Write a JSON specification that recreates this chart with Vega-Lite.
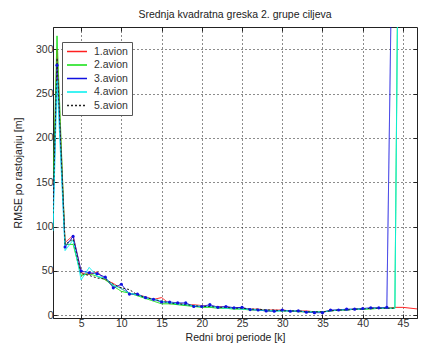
{
  "$schema": "https://vega.github.io/schema/vega-lite/v6.json",
  "width": 364,
  "height": 291,
  "autosize": "none",
  "padding": {"left": 53, "top": 27, "right": 5, "bottom": 36},
  "background": "white",
  "title": {"text": "Srednja kvadratna greska 2. grupe ciljeva", "font": "Liberation Sans", "fontSize": 10.5, "fontWeight": "normal", "color": "#222", "offset": 6},
  "config": {
    "view": {"stroke": "#222", "strokeWidth": 1},
    "axis": {"labelFont": "Liberation Sans", "labelFontSize": 10.5, "labelColor": "#333", "titleFont": "Liberation Sans", "titleFontSize": 10.5, "titleFontWeight": "normal", "titleColor": "#222", "gridColor": "#000", "gridDash": [1, 3], "gridOpacity": 0.9, "domainColor": "#222", "tickColor": "#222", "tickSize": -4, "labelPadding": 4}
  },
  "data": {"values": [
    {"k":1.5,"v":125,"s":"1.avion"},{"k":2,"v":300,"s":"1.avion"},{"k":3,"v":82,"s":"1.avion"},{"k":4,"v":90,"s":"1.avion"},{"k":5,"v":48,"s":"1.avion"},{"k":6,"v":46,"s":"1.avion"},{"k":7,"v":49,"s":"1.avion"},{"k":8,"v":40,"s":"1.avion"},{"k":9,"v":36,"s":"1.avion"},{"k":10,"v":30,"s":"1.avion"},{"k":11,"v":25,"s":"1.avion"},{"k":12,"v":23,"s":"1.avion"},{"k":13,"v":21,"s":"1.avion"},{"k":14,"v":18,"s":"1.avion"},{"k":15,"v":20,"s":"1.avion"},{"k":16,"v":13,"s":"1.avion"},{"k":17,"v":14,"s":"1.avion"},{"k":18,"v":12,"s":"1.avion"},{"k":19,"v":12,"s":"1.avion"},{"k":20,"v":11,"s":"1.avion"},{"k":21,"v":10,"s":"1.avion"},{"k":22,"v":10,"s":"1.avion"},{"k":23,"v":9,"s":"1.avion"},{"k":24,"v":8,"s":"1.avion"},{"k":25,"v":8,"s":"1.avion"},{"k":26,"v":7,"s":"1.avion"},{"k":27,"v":7,"s":"1.avion"},{"k":28,"v":6,"s":"1.avion"},{"k":29,"v":6,"s":"1.avion"},{"k":30,"v":6,"s":"1.avion"},{"k":31,"v":5,"s":"1.avion"},{"k":32,"v":5,"s":"1.avion"},{"k":33,"v":5,"s":"1.avion"},{"k":34,"v":4,"s":"1.avion"},{"k":35,"v":4,"s":"1.avion"},{"k":36,"v":5,"s":"1.avion"},{"k":37,"v":6,"s":"1.avion"},{"k":38,"v":6,"s":"1.avion"},{"k":39,"v":7,"s":"1.avion"},{"k":40,"v":7,"s":"1.avion"},{"k":41,"v":8,"s":"1.avion"},{"k":42,"v":8,"s":"1.avion"},{"k":43,"v":8,"s":"1.avion"},{"k":44,"v":9,"s":"1.avion"},{"k":45,"v":9,"s":"1.avion"},{"k":46,"v":8,"s":"1.avion"},{"k":47,"v":7,"s":"1.avion"},
    {"k":1.5,"v":140,"s":"2.avion"},{"k":2,"v":315,"s":"2.avion"},{"k":3,"v":80,"s":"2.avion"},{"k":4,"v":80,"s":"2.avion"},{"k":5,"v":45,"s":"2.avion"},{"k":6,"v":47,"s":"2.avion"},{"k":7,"v":44,"s":"2.avion"},{"k":8,"v":40,"s":"2.avion"},{"k":9,"v":33,"s":"2.avion"},{"k":10,"v":27,"s":"2.avion"},{"k":11,"v":25,"s":"2.avion"},{"k":12,"v":22,"s":"2.avion"},{"k":13,"v":19,"s":"2.avion"},{"k":14,"v":16,"s":"2.avion"},{"k":15,"v":13,"s":"2.avion"},{"k":16,"v":13,"s":"2.avion"},{"k":17,"v":12,"s":"2.avion"},{"k":18,"v":11,"s":"2.avion"},{"k":19,"v":10,"s":"2.avion"},{"k":20,"v":9,"s":"2.avion"},{"k":21,"v":9,"s":"2.avion"},{"k":22,"v":8,"s":"2.avion"},{"k":23,"v":8,"s":"2.avion"},{"k":24,"v":7,"s":"2.avion"},{"k":25,"v":7,"s":"2.avion"},{"k":26,"v":6,"s":"2.avion"},{"k":27,"v":6,"s":"2.avion"},{"k":28,"v":5,"s":"2.avion"},{"k":29,"v":5,"s":"2.avion"},{"k":30,"v":5,"s":"2.avion"},{"k":31,"v":5,"s":"2.avion"},{"k":32,"v":4,"s":"2.avion"},{"k":33,"v":4,"s":"2.avion"},{"k":34,"v":4,"s":"2.avion"},{"k":35,"v":4,"s":"2.avion"},{"k":36,"v":5,"s":"2.avion"},{"k":37,"v":6,"s":"2.avion"},{"k":38,"v":6,"s":"2.avion"},{"k":39,"v":7,"s":"2.avion"},{"k":40,"v":7,"s":"2.avion"},{"k":41,"v":7,"s":"2.avion"},{"k":42,"v":8,"s":"2.avion"},{"k":43,"v":8,"s":"2.avion"},{"k":44,"v":8,"s":"2.avion"},{"k":45,"v":1050,"s":"2.avion"},
    {"k":1.5,"v":110,"s":"3.avion"},{"k":2,"v":282,"s":"3.avion"},{"k":3,"v":77,"s":"3.avion"},{"k":4,"v":89,"s":"3.avion"},{"k":5,"v":50,"s":"3.avion"},{"k":6,"v":48,"s":"3.avion"},{"k":7,"v":47,"s":"3.avion"},{"k":8,"v":43,"s":"3.avion"},{"k":9,"v":31,"s":"3.avion"},{"k":10,"v":35,"s":"3.avion"},{"k":11,"v":24,"s":"3.avion"},{"k":12,"v":24,"s":"3.avion"},{"k":13,"v":20,"s":"3.avion"},{"k":14,"v":18,"s":"3.avion"},{"k":15,"v":15,"s":"3.avion"},{"k":16,"v":15,"s":"3.avion"},{"k":17,"v":14,"s":"3.avion"},{"k":18,"v":14,"s":"3.avion"},{"k":19,"v":10,"s":"3.avion"},{"k":20,"v":10,"s":"3.avion"},{"k":21,"v":12,"s":"3.avion"},{"k":22,"v":9,"s":"3.avion"},{"k":23,"v":10,"s":"3.avion"},{"k":24,"v":8.5,"s":"3.avion"},{"k":25,"v":9,"s":"3.avion"},{"k":26,"v":6.5,"s":"3.avion"},{"k":27,"v":6,"s":"3.avion"},{"k":28,"v":5,"s":"3.avion"},{"k":29,"v":4.6,"s":"3.avion"},{"k":30,"v":6,"s":"3.avion"},{"k":31,"v":4.6,"s":"3.avion"},{"k":32,"v":5,"s":"3.avion"},{"k":33,"v":3.5,"s":"3.avion"},{"k":34,"v":3,"s":"3.avion"},{"k":35,"v":3,"s":"3.avion"},{"k":36,"v":6,"s":"3.avion"},{"k":37,"v":6,"s":"3.avion"},{"k":38,"v":7,"s":"3.avion"},{"k":39,"v":7,"s":"3.avion"},{"k":40,"v":7.7,"s":"3.avion"},{"k":41,"v":8.5,"s":"3.avion"},{"k":42,"v":8.5,"s":"3.avion"},{"k":43,"v":9,"s":"3.avion"},{"k":44,"v":650,"s":"3.avion"},
    {"k":1.5,"v":95,"s":"4.avion"},{"k":2,"v":265,"s":"4.avion"},{"k":3,"v":73,"s":"4.avion"},{"k":4,"v":85,"s":"4.avion"},{"k":5,"v":40,"s":"4.avion"},{"k":6,"v":54,"s":"4.avion"},{"k":7,"v":44,"s":"4.avion"},{"k":8,"v":42,"s":"4.avion"},{"k":9,"v":34,"s":"4.avion"},{"k":10,"v":30,"s":"4.avion"},{"k":11,"v":25,"s":"4.avion"},{"k":12,"v":23,"s":"4.avion"},{"k":13,"v":20,"s":"4.avion"},{"k":14,"v":18,"s":"4.avion"},{"k":15,"v":16,"s":"4.avion"},{"k":16,"v":14,"s":"4.avion"},{"k":17,"v":13,"s":"4.avion"},{"k":18,"v":12,"s":"4.avion"},{"k":19,"v":11,"s":"4.avion"},{"k":20,"v":10,"s":"4.avion"},{"k":21,"v":10,"s":"4.avion"},{"k":22,"v":9,"s":"4.avion"},{"k":23,"v":8,"s":"4.avion"},{"k":24,"v":8,"s":"4.avion"},{"k":25,"v":7,"s":"4.avion"},{"k":26,"v":7,"s":"4.avion"},{"k":27,"v":6,"s":"4.avion"},{"k":28,"v":6,"s":"4.avion"},{"k":29,"v":5,"s":"4.avion"},{"k":30,"v":5,"s":"4.avion"},{"k":31,"v":5,"s":"4.avion"},{"k":32,"v":5,"s":"4.avion"},{"k":33,"v":4,"s":"4.avion"},{"k":34,"v":4,"s":"4.avion"},{"k":35,"v":4,"s":"4.avion"},{"k":36,"v":5,"s":"4.avion"},{"k":37,"v":6,"s":"4.avion"},{"k":38,"v":6,"s":"4.avion"},{"k":39,"v":7,"s":"4.avion"},{"k":40,"v":7,"s":"4.avion"},{"k":41,"v":8,"s":"4.avion"},{"k":42,"v":8,"s":"4.avion"},{"k":43,"v":8,"s":"4.avion"},{"k":44,"v":8,"s":"4.avion"},{"k":45,"v":1000,"s":"4.avion"},
    {"k":1.5,"v":115,"s":"5.avion"},{"k":2,"v":290,"s":"5.avion"},{"k":3,"v":80,"s":"5.avion"},{"k":4,"v":86,"s":"5.avion"},{"k":5,"v":47,"s":"5.avion"},{"k":6,"v":45,"s":"5.avion"},{"k":7,"v":42,"s":"5.avion"},{"k":8,"v":41,"s":"5.avion"},{"k":9,"v":35,"s":"5.avion"},{"k":10,"v":31,"s":"5.avion"},{"k":11,"v":29,"s":"5.avion"},{"k":12,"v":23,"s":"5.avion"},{"k":13,"v":20,"s":"5.avion"},{"k":14,"v":18,"s":"5.avion"},{"k":15,"v":16,"s":"5.avion"},{"k":16,"v":14,"s":"5.avion"},{"k":17,"v":13,"s":"5.avion"},{"k":18,"v":12,"s":"5.avion"},{"k":19,"v":11,"s":"5.avion"},{"k":20,"v":10,"s":"5.avion"},{"k":21,"v":10,"s":"5.avion"},{"k":22,"v":9,"s":"5.avion"},{"k":23,"v":9,"s":"5.avion"},{"k":24,"v":8,"s":"5.avion"},{"k":25,"v":8,"s":"5.avion"},{"k":26,"v":7,"s":"5.avion"},{"k":27,"v":7,"s":"5.avion"},{"k":28,"v":6,"s":"5.avion"},{"k":29,"v":6,"s":"5.avion"},{"k":30,"v":5,"s":"5.avion"},{"k":31,"v":5,"s":"5.avion"},{"k":32,"v":5,"s":"5.avion"},{"k":33,"v":4,"s":"5.avion"},{"k":34,"v":4,"s":"5.avion"},{"k":35,"v":4,"s":"5.avion"},{"k":36,"v":5,"s":"5.avion"},{"k":37,"v":6,"s":"5.avion"},{"k":38,"v":6,"s":"5.avion"},{"k":39,"v":7,"s":"5.avion"},{"k":40,"v":7,"s":"5.avion"},{"k":41,"v":8,"s":"5.avion"},{"k":42,"v":8,"s":"5.avion"},{"k":43,"v":8,"s":"5.avion"},{"k":44,"v":8,"s":"5.avion"}
  ]},
  "layer": [
    {
      "mark": {"type": "line", "strokeWidth": 1, "clip": true},
      "encoding": {
        "x": {"field": "k", "type": "quantitative", "scale": {"domain": [1.5, 46.75], "nice": false, "zero": false}, "axis": {"values": [5,10,15,20,25,30,35,40,45], "title": "Redni broj periode [k]", "titlePadding": 4, "grid": true}},
        "y": {"field": "v", "type": "quantitative", "scale": {"domain": [-3, 325], "nice": false, "zero": false}, "axis": {"values": [0,50,100,150,200,250,300], "title": "RMSE po rastojanju [m]", "titlePadding": 12, "grid": true}},
        "color": {"field": "s", "type": "nominal", "scale": {"domain": ["1.avion","2.avion","3.avion","4.avion","5.avion"], "range": ["#ff2020","#10e010","#1010e0","#00f0f0","#202020"]},
          "legend": {"title": null, "orient": "none", "legendX": 9, "legendY": 15, "symbolType": "stroke", "symbolSize": 400, "symbolStrokeWidth": 1.5, "clipHeight": 11, "labelFont": "Liberation Sans", "labelFontSize": 10.5, "labelColor": "#333", "strokeColor": "#555", "fillColor": "white", "padding": 4, "rowPadding": 2.5, "labelOffset": 6}},
        "strokeDash": {"field": "s", "type": "nominal", "scale": {"domain": ["1.avion","2.avion","3.avion","4.avion","5.avion"], "range": [[1,0],[1,0],[1,0],[1,0],[2,2]]}, "legend": null},
        "order": {"field": "k", "type": "quantitative"}
      }
    },
    {
      "transform": [{"filter": "datum.s === '3.avion' && datum.k >= 2"}],
      "mark": {"type": "point", "filled": true, "size": 10, "color": "#1010e0", "opacity": 1, "clip": true},
      "encoding": {
        "x": {"field": "k", "type": "quantitative", "axis": null},
        "y": {"field": "v", "type": "quantitative", "axis": null}
      }
    },
    {
      "transform": [{"filter": "datum.k === 2 && datum.s === '1.avion'"}],
      "mark": {"type": "point", "opacity": 0},
      "encoding": {
        "x": {"field": "k", "type": "quantitative", "axis": {"orient": "top", "values": [5,10,15,20,25,30,35,40,45], "labels": false, "grid": false, "title": null, "domain": false}},
        "y": {"field": "v", "type": "quantitative", "axis": {"orient": "right", "values": [0,50,100,150,200,250,300], "labels": false, "grid": false, "title": null, "domain": false}}
      }
    }
  ],
  "resolve": {"axis": {"x": "independent", "y": "independent"}}
}
